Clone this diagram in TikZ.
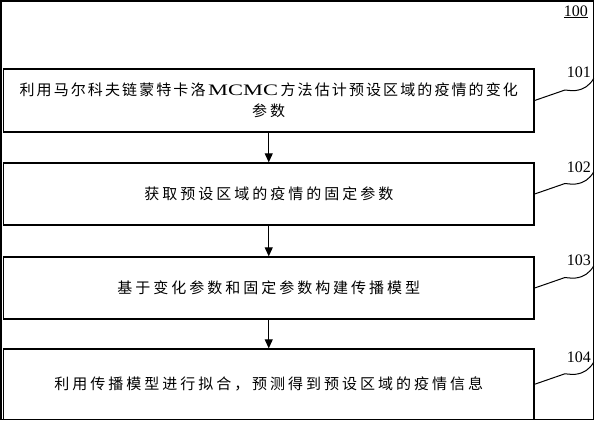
\documentclass[tikz,border=0pt]{standalone}
\usepackage{fontspec}
\setmainfont{Liberation Serif}
\newfontfamily\cjk{Noto Sans CJK SC}[LetterSpace=20]
\newfontfamily\cjkt{Noto Sans CJK SC}[LetterSpace=14]
\newfontfamily\latw{Liberation Serif}[FakeStretch=1.4]
\usetikzlibrary{arrows.meta}
\tikzset{
  frame/.style={draw=black,line width=1.3pt},
  box/.style={draw=black,line width=1.3pt,rectangle,inner sep=0pt,
    minimum width=530.5pt,font=\fontsize{15}{21.5}\selectfont\cjk,align=center},
  flow/.style={draw=black,line width=1pt,-{Triangle[length=9pt,width=8pt]}},
  lead/.style={draw=black,line width=1pt},
  num/.style={font=\fontsize{16}{18}\selectfont,inner sep=0pt,anchor=base east},
  leader/.pic={\draw[lead] (0,0) -- (26,-9) .. controls (31,-12) and (35,-9) .. (41,-10)
     .. controls (49,-11) and (55,-15) .. (59,-22);}
}
\begin{document}
\begin{tikzpicture}[x=1pt,y=-1pt]
\useasboundingbox (0,0) rectangle (595,421);
\draw[frame] (1,1) rectangle (593.5,419.5);

\node[box,minimum height=63pt] (b1) at (268.75,100.5)
  {{\cjkt 利用马尔科夫链蒙特卡洛}{\fontsize{16}{21.5}\selectfont\latw\,MCMC\,}{\cjkt 方法估计预设区域的疫情的变化}\\参数};
\node[box,minimum height=62pt] (b2) at (268.75,194) {获取预设区域的疫情的固定参数};
\node[box,minimum height=62pt] (b3) at (268.75,288) {基于变化参数和固定参数构建传播模型};
\node[box,minimum height=70.5pt] (b4) at (268.75,384.25) {利用传播模型进行拟合，预测得到预设区域的疫情信息};

\draw[flow] (b1) -- (b2);
\draw[flow] (b2) -- (b3);
\draw[flow] (b3) -- (b4);

\path (b1.east) pic {leader};
\path (b2.east) pic {leader};
\path (b3.east) pic {leader};
\path (b4.east) pic {leader};

\node[num] (n0) at (588,16) {\underline{100}};
\node[num] (n1) at (591,77) {101};
\node[num] (n2) at (591,172) {102};
\node[num] (n3) at (591,265) {103};
\node[num] (n4) at (591,362) {104};
\end{tikzpicture}
\end{document}
